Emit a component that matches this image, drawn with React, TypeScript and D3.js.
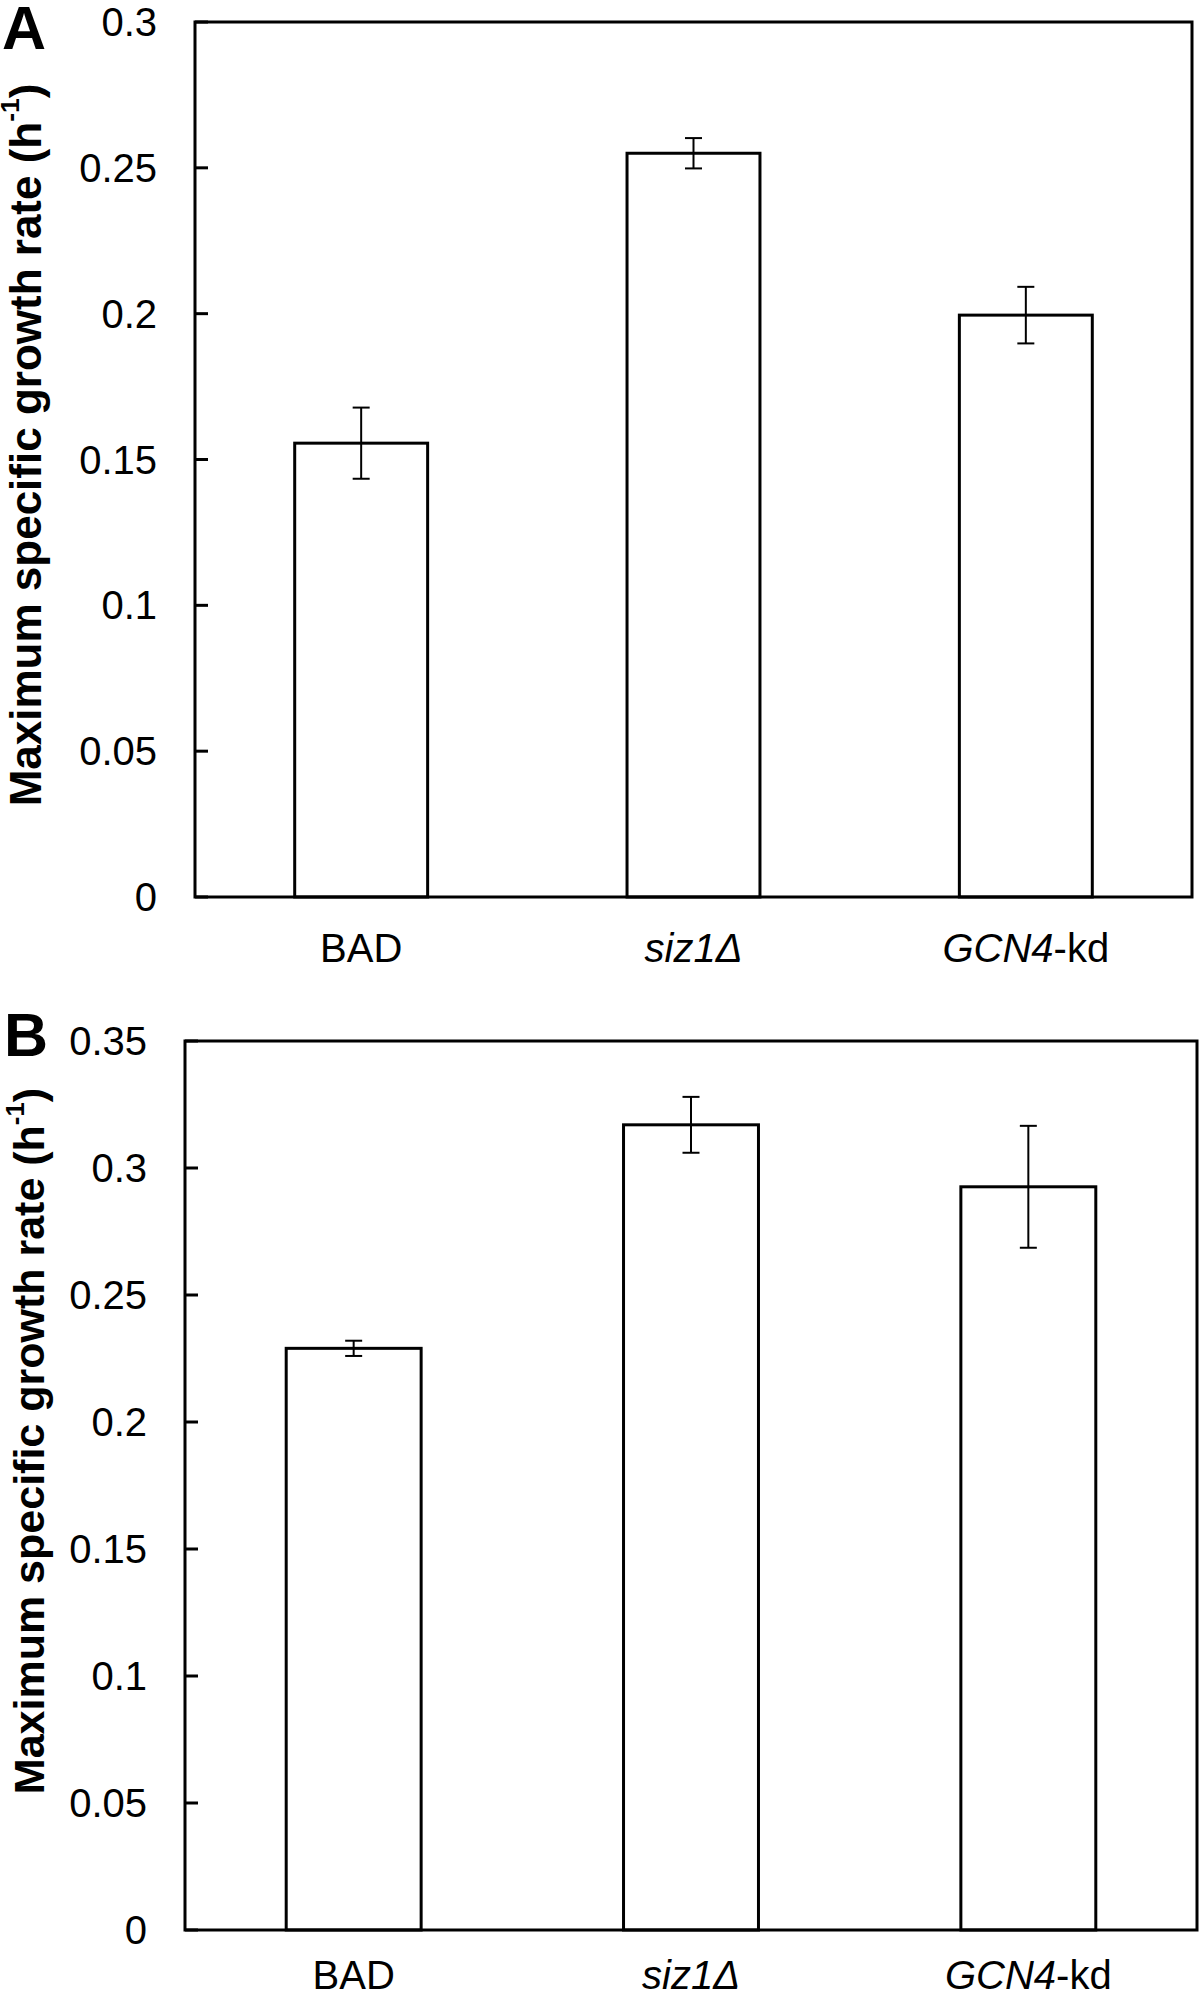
import React, { useEffect } from "react";
import * as d3 from "d3";

const categories = ["BAD", "siz1Δ", "GCN4-kd"];
const valuesA = [0.1556, 0.255, 0.1995];
const errorsA = [0.0122, 0.0052, 0.0097];
const valuesB = [0.229, 0.317, 0.2926];
const errorsB = [0.003, 0.011, 0.024];
const ticksA = [0, 0.05, 0.1, 0.15, 0.2, 0.25, 0.3];
const ticksB = [0, 0.05, 0.1, 0.15, 0.2, 0.25, 0.3, 0.35];

const FONT = "'Liberation Sans', Arial, Helvetica, sans-serif";

type PanelProps = {
  letter: string;
  values: number[];
  errors: number[];
  ticks: number[];
  box: { left: number; right: number; top: number; bottom: number };
  letterPos: { x: number; y: number };
  title: { x: number; cy: number; size: number };
  labelY: number;
};

function XLabel({ name, x, y }: { name: string; x: number; y: number }) {
  if (name === "siz1Δ") {
    return (
      <text x={x} y={y} textAnchor="middle" fontStyle="italic">
        siz1Δ
      </text>
    );
  }
  if (name === "GCN4-kd") {
    return (
      <text x={x} y={y} textAnchor="middle">
        <tspan fontStyle="italic">GCN4</tspan>
        <tspan>-kd</tspan>
      </text>
    );
  }
  return (
    <text x={x} y={y} textAnchor="middle">
      {name}
    </text>
  );
}

function Panel({ letter, values, errors, ticks, box, letterPos, title, labelY }: PanelProps) {
  const x = d3
    .scaleBand<string>()
    .domain(categories)
    .range([box.left, box.right])
    .paddingInner(0.6)
    .paddingOuter(0.3);
  const y = d3
    .scaleLinear()
    .domain([0, ticks[ticks.length - 1]])
    .range([box.bottom, box.top]);
  const fmt = (t: number) => String(+t.toFixed(2));
  const capW = 17;
  return (
    <g fontFamily={FONT} fill="#000">
      <text x={letterPos.x} y={letterPos.y} fontSize={61} fontWeight="bold">
        {letter}
      </text>
      <text
        transform={`translate(${title.x},${title.cy}) rotate(-90)`}
        textAnchor="middle"
        dominantBaseline="central"
        fontSize={title.size}
        fontWeight="bold"
      >
        <tspan>Maximum specific growth rate (h</tspan>
        <tspan baselineShift="super" fontSize={title.size * 0.6}>-1</tspan>
        <tspan>)</tspan>
      </text>
      {ticks.map((t) => (
        <g key={t}>
          <line
            x1={box.left}
            x2={box.left + 13}
            y1={y(t)}
            y2={y(t)}
            stroke="#000"
            strokeWidth={3}
          />
          <text
            x={box.left - 38}
            y={y(t)}
            textAnchor="end"
            dominantBaseline="central"
            fontSize={40}
          >
            {fmt(t)}
          </text>
        </g>
      ))}
      {categories.map((c, i) => {
        const bx = x(c)!;
        const bw = x.bandwidth();
        const cx = bx + bw / 2;
        return (
          <g key={c}>
            <rect
              x={bx}
              y={y(values[i])}
              width={bw}
              height={box.bottom - y(values[i])}
              fill="#fff"
              stroke="#000"
              strokeWidth={3}
            />
            <line
              x1={cx}
              x2={cx}
              y1={y(values[i] + errors[i])}
              y2={y(values[i] - errors[i])}
              stroke="#000"
              strokeWidth={2}
            />
            <line
              x1={cx - capW / 2}
              x2={cx + capW / 2}
              y1={y(values[i] + errors[i])}
              y2={y(values[i] + errors[i])}
              stroke="#000"
              strokeWidth={2}
            />
            <line
              x1={cx - capW / 2}
              x2={cx + capW / 2}
              y1={y(values[i] - errors[i])}
              y2={y(values[i] - errors[i])}
              stroke="#000"
              strokeWidth={2}
            />
            <g fontSize={40}>
              <XLabel name={c} x={cx} y={labelY} />
            </g>
          </g>
        );
      })}
      <rect
        x={box.left}
        y={box.top}
        width={box.right - box.left}
        height={box.bottom - box.top}
        fill="none"
        stroke="#000"
        strokeWidth={3}
      />
    </g>
  );
}

export default function App() {
  useEffect(() => {
    document.body.style.margin = "0";
  }, []);
  return (
    <svg
      width={1200}
      height={1996}
      viewBox="0 0 1200 1996"
      style={{ display: "block", position: "absolute", left: 0, top: 0, background: "#fff" }}
    >
      <rect x={0} y={0} width={1200} height={1996} fill="#fff" />
      <Panel
        letter="A"
        values={valuesA}
        errors={errorsA}
        ticks={ticksA}
        box={{ left: 195, right: 1192, top: 22, bottom: 897 }}
        letterPos={{ x: 2, y: 49 }}
        title={{ x: 25, cy: 445, size: 44 }}
        labelY={962}
      />
      <Panel
        letter="B"
        values={valuesB}
        errors={errorsB}
        ticks={ticksB}
        box={{ left: 185, right: 1197, top: 1041, bottom: 1930 }}
        letterPos={{ x: 4, y: 1056 }}
        title={{ x: 29, cy: 1441, size: 43 }}
        labelY={1989}
      />
    </svg>
  );
}
